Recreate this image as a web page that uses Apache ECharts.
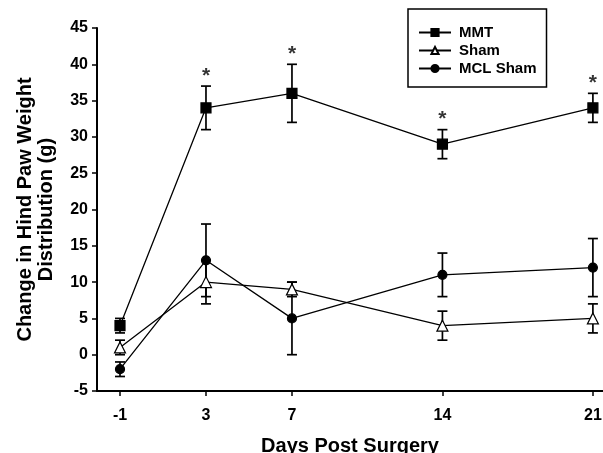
<!DOCTYPE html>
<html>
<head>
<meta charset="utf-8">
<script src="https://cdn.jsdelivr.net/npm/echarts@6/dist/echarts.min.js"></script>
<style>
  html, body { margin: 0; padding: 0; background: #fff; }
  #chart { width: 603px; height: 453px; }
</style>
</head>
<body>
<div id="chart"></div>
<script>
// 数据：术后天数与三组的均值 / 误差
const days = [-1, 3, 7, 14, 21]
const yTicks = [-5, 0, 5, 10, 15, 20, 25, 30, 35, 40, 45]
const mmt = [4, 34, 36, 29, 34]
const mmtErr = [1, 3, 4, 2, 2]
const sham = [1, 10, 9, 4, 5]
const shamErr = [1, 3, 1, 2, 2]
const mclSham = [-2, 13, 5, 11, 12]
const mclShamErr = [1, 5, 5, 3, 4]
const starDays = [3, 7, 14, 21]

const FONT = "'Liberation Sans', Arial, sans-serif"

function pairs(ys) {
  return days.map((d, i) => [d, ys[i]])
}

function errData(ys, errs) {
  return days.map((d, i) => [d, ys[i] - errs[i], ys[i] + errs[i]])
}

// 误差线（竖线 + 上下横帽）
function errorSeries(ys, errs) {
  return {
    type: 'custom',
    z: 1,
    silent: true,
    renderItem(params, api) {
      const lo = api.coord([api.value(0), api.value(1)])
      const hi = api.coord([api.value(0), api.value(2)])
      const w = 5
      const style = { stroke: '#000', lineWidth: 1.7 }
      return {
        type: 'group',
        children: [
          { type: 'line', shape: { x1: lo[0], y1: lo[1], x2: hi[0], y2: hi[1] }, style },
          { type: 'line', shape: { x1: hi[0] - w, y1: hi[1], x2: hi[0] + w, y2: hi[1] }, style },
          { type: 'line', shape: { x1: lo[0] - w, y1: lo[1], x2: lo[0] + w, y2: lo[1] }, style }
        ]
      }
    },
    encode: { x: 0, y: [1, 2] },
    data: errData(ys, errs)
  }
}

function lineSeries(name, ys, symbol, size, fill) {
  return {
    name,
    type: 'line',
    z: 3,
    data: pairs(ys),
    symbol,
    symbolSize: size,
    showSymbol: true,
    lineStyle: { color: '#000', width: 1.3 },
    itemStyle: { color: fill, borderColor: '#000', borderWidth: 1.2 }
  }
}

const chart = echarts.init(document.getElementById('chart'), null, { renderer: 'canvas' })

const mmtTops = starDays.map(d => {
  const i = days.indexOf(d)
  return [d, mmt[i] + mmtErr[i]]
})

chart.setOption({
  animation: false,
  textStyle: { fontFamily: FONT, color: '#000' },
  grid: { left: 97, right: 0, top: 28, bottom: 62, containLabel: false, outerBoundsMode: 'none' },
  legend: {
    orient: 'vertical',
    left: 408,
    top: 9,
    padding: [15, 10, 10, 10],
    itemGap: 1,
    itemWidth: 32,
    itemHeight: 9,
    borderColor: '#000',
    borderWidth: 1.5,
    borderRadius: 0,
    backgroundColor: '#fff',
    textStyle: { fontFamily: FONT, fontSize: 15, fontWeight: 'bold', color: '#000', padding: [0, 0, 0, 3], lineHeight: 17 },
    data: ['MMT', 'Sham', 'MCL Sham']
  },
  xAxis: {
    type: 'value',
    min: -2.07,
    max: 21.47,
    name: 'Days Post Surgery',
    nameLocation: 'middle',
    nameGap: 45,
    nameTextStyle: { fontFamily: FONT, fontSize: 20, fontWeight: 'bold', color: '#000' },
    splitLine: { show: false },
    axisLine: { onZero: false, lineStyle: { color: '#000', width: 2 } },
    axisTick: { customValues: days, length: 5, lineStyle: { color: '#000', width: 1.5 } },
    axisLabel: {
      customValues: days,
      margin: 17,
      fontFamily: FONT,
      fontSize: 16,
      fontWeight: 'bold',
      color: '#000'
    }
  },
  yAxis: {
    type: 'value',
    min: -5,
    max: 45,
    interval: 5,
    name: 'Change in Hind Paw Weight\nDistribution (g)',
    nameLocation: 'middle',
    nameGap: 40,
    nameTextStyle: { fontFamily: FONT, fontSize: 20, fontWeight: 'bold', color: '#000', lineHeight: 21 },
    splitLine: { show: false },
    axisLine: { show: true, onZero: false, lineStyle: { color: '#000', width: 2 } },
    axisTick: { show: true, length: 5, lineStyle: { color: '#000', width: 1.5 } },
    axisLabel: {
      margin: 9,
      fontFamily: FONT,
      fontSize: 16,
      fontWeight: 'bold',
      color: '#000',
      customValues: yTicks
    }
  },
  series: [
    errorSeries(mmt, mmtErr),
    errorSeries(sham, shamErr),
    errorSeries(mclSham, mclShamErr),
    lineSeries('MMT', mmt, 'rect', 10, '#000'),
    lineSeries('Sham', sham, 'triangle', 11, '#fff'),
    lineSeries('MCL Sham', mclSham, 'circle', 9, '#000'),
    {
      // 显著性星号
      type: 'scatter',
      z: 4,
      silent: true,
      symbolSize: 0,
      data: mmtTops,
      label: {
        show: true,
        position: 'inside',
        offset: [0, -10],
        formatter: '*',
        fontFamily: FONT,
        fontSize: 21,
        fontWeight: 'bold',
        color: '#000'
      }
    }
  ]
})
</script>
</body>
</html>
